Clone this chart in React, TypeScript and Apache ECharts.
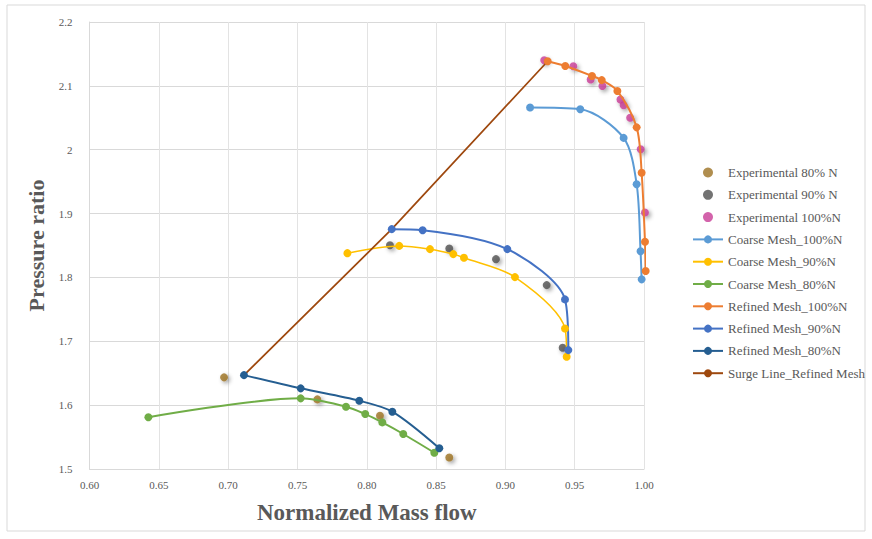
import React, { useEffect, useRef } from "react";
import * as echarts from "echarts";

const exp80: [number, number][] = [[0.697, 1.6435], [0.7643, 1.609], [0.8095, 1.5834], [0.8595, 1.518]];
const exp90: [number, number][] = [[0.8167, 1.8505], [0.8595, 1.8454], [0.8932, 1.8286], [0.9298, 1.788], [0.9413, 1.69]];
const exp100: [number, number][] = [
  [0.928, 2.14], [0.949, 2.1307], [0.9615, 2.11], [0.97, 2.0998], [0.983, 2.0785],
  [0.9853, 2.0696], [0.99, 2.05], [0.9976, 2.0008], [1.0007, 1.9017],
];
const coarse100: [number, number][] = [
  [0.9178, 2.066], [0.954, 2.0634], [0.9853, 2.0185], [0.9947, 1.946], [0.9975, 1.841], [0.9983, 1.797],
];
const coarse90: [number, number][] = [
  [0.786, 1.838], [0.8234, 1.8494], [0.8456, 1.8443], [0.8624, 1.8365], [0.8701, 1.8307],
  [0.9069, 1.8005], [0.943, 1.72], [0.9442, 1.6757],
];
const coarse80: [number, number][] = [
  [0.6424, 1.581], [0.7523, 1.6106], [0.785, 1.5975], [0.7989, 1.586], [0.8112, 1.573],
  [0.8263, 1.5548], [0.8487, 1.5255],
];
const refined100: [number, number][] = [
  [0.9305, 2.1385], [0.9432, 2.131], [0.9625, 2.1155], [0.9695, 2.109], [0.9808, 2.092],
  [0.9947, 2.035], [0.9983, 1.964], [1.0007, 1.856], [1.0012, 1.81],
];
const refined90: [number, number][] = [
  [0.818, 1.8756], [0.8403, 1.874], [0.9014, 1.8443], [0.943, 1.7656], [0.9454, 1.6862],
];
const refined80: [number, number][] = [
  [0.7114, 1.647], [0.7523, 1.6263], [0.7946, 1.6069], [0.8184, 1.5897], [0.8523, 1.5324],
];
const surge: [number, number][] = [[0.7114, 1.647], [0.818, 1.8756], [0.9305, 2.1385]];

const FONT = "'Liberation Serif', 'Times New Roman', serif";
const GRAY = "#595959";

export default function App() {
  const ref = useRef<HTMLDivElement>(null);
  useEffect(() => {
    if (!ref.current) return;
    const chart = echarts.init(ref.current, undefined, { renderer: "svg" });
    const shadow = { shadowBlur: 4, shadowColor: "rgba(0,0,0,0.45)", shadowOffsetX: 2, shadowOffsetY: 2 };
    const scat = (name: string, data: [number, number][], color: string) => ({
      name, type: "scatter", data, symbolSize: 8, clip: false,
      itemStyle: { color, ...shadow },
    });
    const line = (name: string, data: [number, number][], color: string, width = 2, sym = true) => ({
      name, type: "line", data, smooth: 0.3, symbol: sym ? "circle" : "none", symbolSize: 8,
      showSymbol: sym, clip: false,
      lineStyle: { color, width }, itemStyle: { color },
    });
    chart.setOption({
      animation: false,
      backgroundColor: "#fff",
      textStyle: { fontFamily: FONT },
      graphic: [{
        type: "rect", shape: { x: 7, y: 5, width: 858, height: 526 },
        style: { fill: "none", stroke: "#d9d9d9", lineWidth: 1 }, silent: true,
      }],
      grid: { left: 89.6, right: 228, top: 22, bottom: 70, containLabel: false },
      xAxis: {
        type: "value", min: 0.6, max: 1.0, interval: 0.05,
        axisLine: { show: true, lineStyle: { color: "#d9d9d9" } },
        axisTick: { show: false },
        splitLine: { show: true, lineStyle: { color: "#e3e3e3" } },
        axisLabel: { color: GRAY, fontFamily: FONT, fontSize: 11, margin: 10, formatter: (v: number) => v.toFixed(2) },
        name: "Normalized Mass flow", nameLocation: "middle", nameGap: 32,
        nameTextStyle: { color: GRAY, fontFamily: FONT, fontSize: 23, fontWeight: "bold" },
      },
      yAxis: {
        type: "value", min: 1.5, max: 2.2, interval: 0.1,
        axisLine: { show: true, lineStyle: { color: "#d9d9d9" } },
        axisTick: { show: false },
        splitLine: { show: true, lineStyle: { color: "#d9d9d9" } },
        axisLabel: { color: GRAY, fontFamily: FONT, fontSize: 11, margin: 17,
          formatter: (v: number) => String(parseFloat(v.toFixed(1))) },
        name: "Pressure ratio", nameLocation: "middle", nameGap: 39,
        nameTextStyle: { color: GRAY, fontFamily: FONT, fontSize: 22, fontWeight: "bold" },
      },
      legend: {
        orient: "vertical", left: 692, top: 166, padding: 0, itemWidth: 30, itemHeight: 10, itemGap: 9.3,
        textStyle: { color: GRAY, fontFamily: FONT, fontSize: 13 },
        data: [
          "Experimental 80% N", "Experimental 90% N", "Experimental 100%N",
          "Coarse Mesh_100%N", "Coarse Mesh_90%N", "Coarse Mesh_80%N",
          "Refined Mesh_100%N", "Refined Mesh_90%N", "Refined Mesh_80%N",
          "Surge Line_Refined Mesh",
        ],
      },
      series: [
        scat("Experimental 80% N", exp80, "#9C7223"),
        scat("Experimental 90% N", exp90, "#505050"),
        scat("Experimental 100%N", exp100, "#C83C96"),
        line("Coarse Mesh_100%N", coarse100, "#5B9BD5"),
        line("Coarse Mesh_90%N", coarse90, "#FFC000", 1.5),
        line("Coarse Mesh_80%N", coarse80, "#70AD47"),
        line("Refined Mesh_100%N", refined100, "#ED7D31"),
        line("Refined Mesh_90%N", refined90, "#4472C4"),
        line("Refined Mesh_80%N", refined80, "#255E91"),
        { ...line("Surge Line_Refined Mesh", surge, "#9E480E", 1.75, false), smooth: false },
      ],
    });
    return () => chart.dispose();
  }, []);
  return <div ref={ref} style={{ position: "fixed", left: 0, top: 0, width: 872, height: 539 }} />;
}
